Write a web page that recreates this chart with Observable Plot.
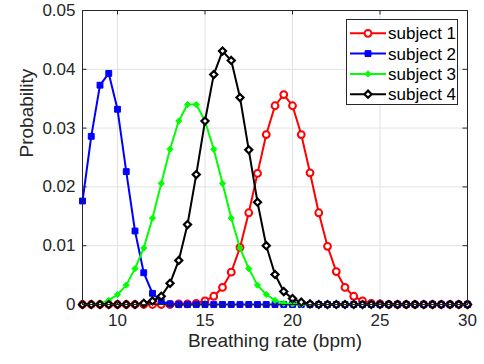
<!DOCTYPE html>
<html>
<head>
<meta charset="utf-8">
<script src="https://cdn.jsdelivr.net/npm/d3@7"></script>
<script src="https://cdn.jsdelivr.net/npm/@observablehq/plot@0.6"></script>
<style>
  html, body { margin: 0; padding: 0; background: white; }
  #wrap { position: relative; width: 484px; height: 364px; font-family: "Liberation Sans", Arial, Helvetica, sans-serif; }
  #legend { position: absolute; left: 346px; top: 19px; }
</style>
</head>
<body>
<div id="wrap"></div>
<script>
// ---- data ----
const breathingRate = [8, 8.5, 9, 9.5, 10, 10.5, 11, 11.5, 12, 12.5, 13, 13.5, 14, 14.5, 15, 15.5, 16, 16.5, 17, 17.5, 18, 18.5, 19, 19.5, 20, 20.5, 21, 21.5, 22, 22.5, 23, 23.5, 24, 24.5, 25, 25.5, 26, 26.5, 27, 27.5, 28, 28.5, 29, 29.5, 30];

const subject1 = [0, 0, 0, 0, 0, 0, 0, 0, 0, 0, 0, 0.0001, 0.0001, 0.0002, 0.0006, 0.0014, 0.0029, 0.0055, 0.0097, 0.0156, 0.0223, 0.0289, 0.0338, 0.0357, 0.0338, 0.0289, 0.0224, 0.0156, 0.0099, 0.0056, 0.0029, 0.0014, 0.0006, 0.0002, 0.0001, 0, 0, 0, 0, 0, 0, 0, 0, 0, 0];
const subject2 = [0.0176, 0.0286, 0.0373, 0.0393, 0.0332, 0.0226, 0.0125, 0.0054, 0.0019, 0.0005, 0.0001, 0, 0, 0, 0, 0, 0, 0, 0, 0, 0, 0, 0, 0, 0, 0, 0, 0, 0, 0, 0, 0, 0, 0, 0, 0, 0, 0, 0, 0, 0, 0, 0, 0, 0];
const subject3 = [0, 0.0001, 0.0002, 0.0007, 0.0017, 0.0033, 0.0061, 0.0096, 0.0147, 0.0206, 0.0264, 0.0312, 0.0340, 0.0340, 0.0312, 0.0264, 0.0206, 0.0147, 0.0096, 0.0061, 0.0033, 0.0017, 0.0007, 0.0002, 0.0001, 0, 0, 0, 0, 0, 0, 0, 0, 0, 0, 0, 0, 0, 0, 0, 0, 0, 0, 0, 0];
const subject4 = [0, 0, 0, 0, 0, 0, 0, 0.0002, 0.0006, 0.0014, 0.0036, 0.0075, 0.0136, 0.0221, 0.0312, 0.0391, 0.0431, 0.0415, 0.0352, 0.0263, 0.0174, 0.0100, 0.0051, 0.0022, 0.0010, 0.0004, 0.0001, 0, 0, 0, 0, 0, 0, 0, 0, 0, 0, 0, 0, 0, 0, 0, 0, 0, 0];

const seriesNames = ["subject 1", "subject 2", "subject 3", "subject 4"];
const xTicks = [10, 15, 20, 25, 30];
const yTicks = [0, 0.01, 0.02, 0.03, 0.04, 0.05];
const xLabel = "Breathing rate (bpm)";
const yLabel = "Probability";

// ---- styles ----
const styles = [
  {color: "#ff0000", symbol: "circle", r: 3.4, fill: "white", sw: 2},
  {color: "#0000ff", symbol: "square", r: 3.3, fill: "#0000ff", sw: 1},
  {color: "#00ff00", symbol: "diamond2", r: 2.8, fill: "#00ff00", sw: 1},
  {color: "#000000", symbol: "diamond2", r: 3.2, fill: "white", sw: 2.2}
];

const allValues = [subject1, subject2, subject3, subject4];
const tables = allValues.map((vals, i) => breathingRate.map((x, j) => ({x, y: vals[j], s: seriesNames[i]})));

const W = 484, H = 364, mL = 82, mR = 17, mT = 10, mB = 60;
const innerW = W - mL - mR, innerH = H - mT - mB;
const tick = 4.5;
const ink = "#262626";

const seriesMarks = tables.flatMap((t, i) => {
  const st = styles[i];
  return [
    Plot.line(t, {x: "x", y: "y", stroke: st.color, strokeWidth: 2}),
    Plot.dot(t, {x: "x", y: "y", symbol: st.symbol, r: st.r, stroke: st.color, fill: st.fill, strokeWidth: st.sw})
  ];
});

const chart = Plot.plot({
  width: W, height: H,
  marginLeft: mL, marginRight: mR, marginTop: mT, marginBottom: mB,
  x: {domain: [8, 30]},
  y: {domain: [0, 0.05]},
  style: {fontFamily: '"Liberation Sans", Arial, Helvetica, sans-serif', fontSize: "17px", color: ink, background: "white"},
  marks: [
    Plot.gridX(xTicks, {stroke: "#e2e2e2", strokeOpacity: 1}),
    Plot.gridY(yTicks, {stroke: "#e2e2e2", strokeOpacity: 1}),
    ...seriesMarks,
    Plot.frame({stroke: ink, strokeWidth: 1}),
    Plot.ruleY(yTicks, {y: d => d, insetRight: innerW - tick, stroke: ink}),
    Plot.ruleY(yTicks, {y: d => d, insetLeft: innerW - tick, stroke: ink}),
    Plot.ruleX(xTicks, {x: d => d, insetTop: innerH - tick, stroke: ink}),
    Plot.ruleX(xTicks, {x: d => d, insetBottom: innerH - tick, stroke: ink}),
    Plot.axisX(xTicks, {tickSize: 0, tickPadding: 9, label: null, fontSize: 17}),
    Plot.axisY(yTicks, {tickSize: 0, tickPadding: 7, label: null, fontSize: 17, tickFormat: d => d === 0 ? "0" : d3.format(".2f")(d)}),
    Plot.text([xLabel], {frameAnchor: "bottom", dy: 42, text: d => d, fontSize: 19, fill: ink}),
    Plot.text([yLabel], {frameAnchor: "left", dx: -56, rotate: -90, text: d => d, fontSize: 19, fill: ink})
  ]
});

const wrap = document.getElementById("wrap");
wrap.appendChild(chart);

// ---- legend ----
const lw = 112, lh = 86;
const leg = d3.create("svg").attr("id", "legend").attr("width", lw).attr("height", lh)
  .style("font-family", '"Liberation Sans", Arial, Helvetica, sans-serif');
leg.append("rect").attr("x", 0.5).attr("y", 0.5).attr("width", lw - 1).attr("height", lh - 1)
  .attr("fill", "white").attr("stroke", ink).attr("stroke-width", 1);
const symMap = {circle: d3.symbolCircle, square: d3.symbolSquare, diamond2: d3.symbolDiamond2};
seriesNames.forEach((name, i) => {
  const st = styles[i];
  const y = 14.3 + 20.3 * i;
  const g = leg.append("g");
  g.append("line").attr("x1", 4).attr("x2", 40).attr("y1", y).attr("y2", y)
    .attr("stroke", st.color).attr("stroke-width", 2);
  g.append("path").attr("d", d3.symbol(symMap[st.symbol], st.r * st.r * Math.PI)())
    .attr("transform", `translate(22,${y})`)
    .attr("fill", st.fill).attr("stroke", st.color).attr("stroke-width", st.sw);
  g.append("text").attr("x", 42).attr("y", y).attr("dy", "0.35em")
    .attr("font-size", 17).attr("fill", "#000").text(name);
});
wrap.appendChild(leg.node());
</script>
</body>
</html>
